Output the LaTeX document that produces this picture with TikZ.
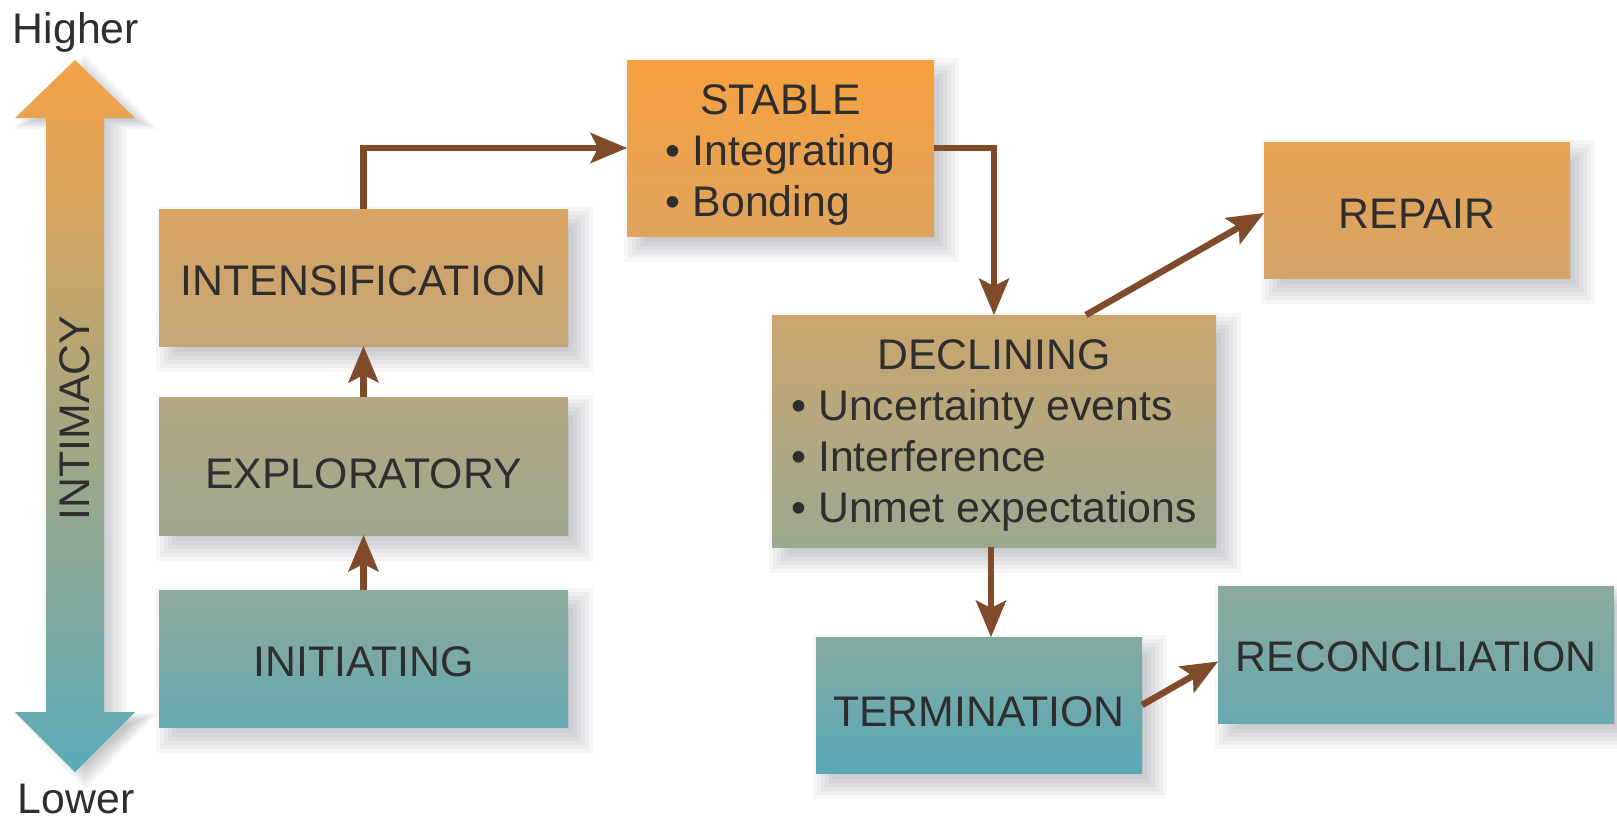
\documentclass[tikz,border=0pt]{standalone}
\usepackage{fontspec}
\setmainfont{Liberation Sans}
\usetikzlibrary{arrows.meta}
\pgfdeclarelayer{background}
\pgfsetlayers{background,main}
\definecolor{txt}{HTML}{2E2E2E}
\definecolor{arr}{HTML}{7F4B2B}
\definecolor{shd}{RGB}{30,35,55}
\definecolor{intT}{HTML}{D9A360}
\definecolor{intB}{HTML}{C3A678}
\definecolor{expT}{HTML}{B3A781}
\definecolor{expB}{HTML}{9EA88F}
\definecolor{iniT}{HTML}{8DAA9B}
\definecolor{iniB}{HTML}{66A8B1}
\definecolor{staT}{HTML}{F7A040}
\definecolor{staB}{HTML}{E0A45C}
\definecolor{repT}{HTML}{E8A352}
\definecolor{repB}{HTML}{D3A46A}
\definecolor{decT}{HTML}{CBA56E}
\definecolor{decB}{HTML}{9BA990}
\definecolor{terT}{HTML}{85AAA0}
\definecolor{terB}{HTML}{58A9B8}
\definecolor{recT}{HTML}{8BAA9B}
\definecolor{recB}{HTML}{69A9B0}
\definecolor{axT}{HTML}{F5A246}
\definecolor{axB}{HTML}{5AABB9}
\newcommand\putbase[2]{\raisebox{#1pt}[0pt][0pt]{#2}}
\begin{document}
\begin{tikzpicture}[x=1pt,y=-1pt,
  stagebox/.style={rectangle, inner sep=0pt, outer sep=0pt, text=txt, font=\fontsize{42.8}{51}\selectfont},
  flow/.style={draw=arr, line width=6.5pt, -{Stealth[length=37pt,width=31pt,inset=8pt,line width=0pt]}},
  axlabel/.style={text=txt, font=\fontsize{42.8}{51}\selectfont, inner sep=0pt}]
\useasboundingbox (0,0) rectangle (1617,820);

% intimacy axis arrow
\shade[top color=axT, bottom color=axB] (75,60) -- (135,118) -- (104,118) -- (104,712) -- (135,712) -- (75,772) -- (15,712) -- (46,712) -- (46,118) -- (15,118) -- cycle;
\node[axlabel, anchor=base] (higher) at (76,43) {Higher};
\node[axlabel, anchor=base] (lower) at (76,813) {Lower};
\node[axlabel, anchor=base, rotate=90] (intimacy) at (89,418) {INTIMACY};

% stage boxes
\node[stagebox, minimum width=409pt, minimum height=137pt, top color=intT, bottom color=intB] (intens) at (363.5,277.5) {\putbase{-17.5}{INTENSIFICATION}};
\node[stagebox, minimum width=409pt, minimum height=138pt, top color=expT, bottom color=expB] (explor) at (363.5,466) {\putbase{-22}{EXPLORATORY}};
\node[stagebox, minimum width=409pt, minimum height=137pt, top color=iniT, bottom color=iniB] (init) at (363.5,658.5) {\putbase{-17.5}{INITIATING}};
\node[stagebox, minimum width=307pt, minimum height=176pt, top color=staT, bottom color=staB] (stable) at (780.5,148) {\putbase{-68}{\begin{tabular}[b]{@{}l@{}}\multicolumn{1}{@{}c@{}}{STABLE}\\ • Integrating\\ • Bonding\end{tabular}}};
\node[stagebox, minimum width=306pt, minimum height=136pt, top color=repT, bottom color=repB] (repair) at (1417,210) {\putbase{-18}{REPAIR}};
\node[stagebox, minimum width=444pt, minimum height=232pt, top color=decT, bottom color=decB] (declin) at (994,431) {\putbase{-91}{\begin{tabular}[b]{@{}l@{}}\multicolumn{1}{@{}c@{}}{DECLINING}\\ • Uncertainty events\\ • Interference\\ • Unmet expectations\end{tabular}}};
\node[stagebox, minimum width=326pt, minimum height=136pt, top color=terT, bottom color=terB] (term) at (979,705) {\putbase{-21}{TERMINATION}};
\node[stagebox, minimum width=396pt, minimum height=137pt, top color=recT, bottom color=recB] (recon) at (1416,654.5) {\putbase{-16.5}{RECONCILIATION}};

% connectors
\draw[flow] (init.north) -- (explor.south);
\draw[flow] (explor.north) -- (intens.south);
\draw[flow] (intens.north) |- (stable.west);
\draw[flow] (stable.east) -| (declin.north);
\draw[flow] ([xshift=92pt]declin.north) -- ([yshift=-3pt]repair.west);
\coordinate (dsx) at ([xshift=-3pt]declin.south);
\draw[flow] (dsx) -- (dsx |- term.north);
\draw[flow] (term.east) -- ([yshift=-7pt]recon.west);

% shadows
\begin{pgfonlayer}{background}
\fill[white] (0,0) rectangle (1617,820);
\foreach \n in {intens,explor,init,stable,repair,declin,term,recon}{
  \foreach \e in {-14,-10,...,14}{
    \fill[shd,opacity=0.04] ([shift={({11-\e},{12+\e})}]\n.south west) rectangle ([shift={({11+\e},{12-\e})}]\n.north east);
  }
}
\foreach \e in {-12,-8,...,12}{
  \fill[shd,opacity=0.04] (85,{66-\e}) -- ({145+\e},{124+0.4*\e}) -- ({114+\e},{124+0.4*\e}) -- ({114+\e},{718-0.4*\e}) -- ({145+\e},{718-0.4*\e}) -- (85,{778+\e}) -- ({25-\e},{718-0.4*\e}) -- ({56-\e},{718-0.4*\e}) -- ({56-\e},{124+0.4*\e}) -- ({25-\e},{124+0.4*\e}) -- cycle;
}
\end{pgfonlayer}
\end{tikzpicture}
\end{document}
